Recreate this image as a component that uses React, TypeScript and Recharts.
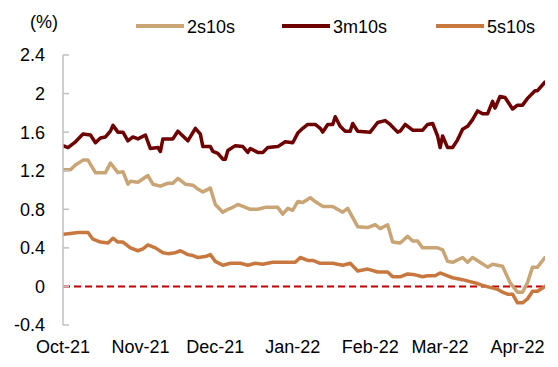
import { LineChart, Line, XAxis, YAxis, ReferenceLine, Legend } from 'recharts';

// x = days since 1 Oct 2021
const monthTicks = [0, 31, 61, 92, 123, 151, 182];
const monthLabels = ['Oct-21', 'Nov-21', 'Dec-21', 'Jan-22', 'Feb-22', 'Mar-22', 'Apr-22'];
const yTicks = [-0.4, 0, 0.4, 0.8, 1.2, 1.6, 2, 2.4];

const days3m10s = [
  0, 2, 5, 8, 11, 13, 15, 17, 19, 20, 22, 24, 26, 28, 30, 33, 35, 38, 39, 40, 44, 46, 48, 50, 53, 55, 56, 59, 60,
  62, 64, 65, 66, 69, 72, 74, 75, 78, 80, 82, 86, 89, 92, 94, 96, 98, 101, 103, 104, 106, 108, 109, 111, 113, 115,
  116, 118, 123, 126, 129, 131, 134, 135, 137, 140, 144, 146, 148, 150, 151, 152, 154, 156, 158, 160, 162, 164,
  166, 168, 170, 172, 173, 175, 177, 180, 182, 184, 186, 189, 190, 193,
];
const vals3m10s = [
  1.46, 1.44, 1.5, 1.58, 1.57, 1.49, 1.54, 1.55, 1.61, 1.67, 1.6, 1.6, 1.51, 1.55, 1.53, 1.57, 1.43, 1.44, 1.4, 1.53,
  1.53, 1.61, 1.56, 1.51, 1.64, 1.58, 1.45, 1.45, 1.4, 1.38, 1.32, 1.32, 1.41, 1.46, 1.45, 1.39, 1.43, 1.39, 1.39,
  1.44, 1.45, 1.5, 1.49, 1.59, 1.64, 1.68, 1.68, 1.64, 1.6, 1.68, 1.68, 1.76, 1.66, 1.61, 1.61, 1.69, 1.61, 1.6,
  1.7, 1.72, 1.68, 1.6, 1.61, 1.68, 1.62, 1.62, 1.68, 1.69, 1.56, 1.44, 1.56, 1.44, 1.44, 1.52, 1.63, 1.66, 1.73,
  1.82, 1.79, 1.79, 1.92, 1.85, 1.97, 1.96, 1.84, 1.88, 1.88, 1.95, 2.03, 2.03, 2.12,
];

const days2s10s = [
  0, 3, 5, 8, 10, 13, 15, 17, 19, 22, 24, 26, 27, 30, 34, 36, 39, 42, 44, 46, 49, 52, 54, 56, 59, 61, 64, 66, 68,
  70, 72, 75, 78, 81, 84, 86, 88, 90, 92, 94, 96, 99, 101, 104, 108, 112, 114, 118, 122, 125, 127, 130, 132, 135,
  138, 140, 142, 144, 150, 152, 154, 156, 160, 162, 164, 167, 170, 172, 174, 176, 179, 182, 184, 186, 188, 190, 193,
];
const vals2s10s = [
  1.21, 1.21, 1.26, 1.31, 1.31, 1.18, 1.18, 1.18, 1.28, 1.18, 1.19, 1.06, 1.09, 1.08, 1.15, 1.06, 1.04, 1.07, 1.07,
  1.12, 1.06, 1.05, 1.01, 0.98, 1.02, 0.85, 0.77, 0.8, 0.82, 0.85, 0.83, 0.8, 0.8, 0.82, 0.82, 0.82, 0.75, 0.81,
  0.79, 0.88, 0.87, 0.92, 0.88, 0.83, 0.83, 0.77, 0.81, 0.62, 0.61, 0.64, 0.6, 0.64, 0.46, 0.45, 0.52, 0.47, 0.47,
  0.4, 0.4, 0.38, 0.26, 0.25, 0.3, 0.25, 0.3, 0.25, 0.2, 0.23, 0.22, 0.21, 0.04, -0.06, -0.06, 0.04, 0.2, 0.2, 0.3,
];

const days5s10s = [
  0, 3, 6, 10, 12, 15, 18, 20, 22, 24, 27, 30, 32, 34, 37, 40, 42, 45, 47, 50, 52, 54, 57, 59, 61, 64, 67, 71, 74,
  77, 80, 84, 87, 91, 93, 95, 98, 100, 103, 108, 112, 115, 118, 122, 126, 130, 132, 135, 138, 141, 144, 146, 149,
  151, 154, 156, 160, 163, 166, 168, 171, 174, 176, 178, 180, 182, 184, 186, 188, 190, 193,
];
const vals5s10s = [
  0.54, 0.55, 0.56, 0.56, 0.49, 0.46, 0.45, 0.5, 0.46, 0.46, 0.4, 0.37, 0.39, 0.43, 0.4, 0.35, 0.34, 0.35, 0.37,
  0.33, 0.32, 0.3, 0.31, 0.33, 0.26, 0.22, 0.24, 0.24, 0.22, 0.24, 0.23, 0.25, 0.25, 0.25, 0.25, 0.3, 0.27, 0.27,
  0.24, 0.24, 0.22, 0.24, 0.16, 0.18, 0.15, 0.15, 0.1, 0.1, 0.13, 0.12, 0.1, 0.11, 0.11, 0.14, 0.11, 0.09, 0.07,
  0.05, 0.03, 0.01, -0.01, -0.03, -0.06, -0.08, -0.08, -0.17, -0.17, -0.13, -0.05, -0.05, 0,
];

const toRows = (days: number[], vals: number[]) => days.map((day, i) => ({ day, v: vals[i] }));

const series = [
  { name: '2s10s', color: '#C9A474', data: toRows(days2s10s, vals2s10s) },
  { name: '3m10s', color: '#6E0000', data: toRows(days3m10s, vals3m10s) },
  { name: '5s10s', color: '#C8783F', data: toRows(days5s10s, vals5s10s) },
];

const FONT = 'Arial, "Liberation Sans", sans-serif';
const fmtY = (v: number) => String(Number(v.toFixed(1)));
const fmtX = (v: number) => monthLabels[monthTicks.indexOf(v)] ?? '';

const YTick = (props: any) => {
  const { x, y, payload } = props;
  return (
    <g>
      <line x1={x + 18} x2={x + 24} y1={y} y2={y} stroke="#bfbfbf" strokeWidth={1.5} />
      <text x={x} y={y} dy="0.36em" textAnchor="end" fontSize={18} fill="#000" fontFamily={FONT}>
        {fmtY(payload.value)}
      </text>
    </g>
  );
};

const legendPos = [136, 282, 436];

const LegendBox = () => (
  <div style={{ position: 'relative', width: 558, height: 50, fontFamily: FONT, fontSize: 18, color: '#000' }}>
    <span style={{ position: 'absolute', left: 30, top: 13, lineHeight: '18px' }}>(%)</span>
    {series.map((s, i) => (
      <div key={s.name}>
        <span
          style={{ position: 'absolute', left: legendPos[i], top: 24, width: 48, height: 4, background: s.color }}
        />
        <span style={{ position: 'absolute', left: legendPos[i] + 51, top: 18, lineHeight: '18px' }}>{s.name}</span>
      </div>
    ))}
  </div>
);

export default function App() {
  return (
    <div style={{ position: 'absolute', left: 0, top: 0, width: 558, height: 367, background: '#fff' }}>
      <LineChart width={558} height={367} margin={{ top: 55, right: 13, bottom: 0, left: 0 }}>
        <Legend
          verticalAlign="middle"
          align="center"
          wrapperStyle={{ top: 0, left: 0, width: 558, height: 50 }}
          content={() => <LegendBox />}
        />
        <XAxis
          type="number"
          dataKey="day"
          domain={[0, 193]}
          ticks={monthTicks}
          interval={0}
          tickFormatter={fmtX}
          axisLine={false}
          tickLine={false}
          tickSize={0}
          tickMargin={15}
          height={42}
          tick={{ fontSize: 18, fill: '#000', fontFamily: FONT }}
          allowDataOverflow
        />
        <YAxis
          type="number"
          domain={[-0.4, 2.4]}
          ticks={yTicks}
          interval={0}
          width={63}
          axisLine={{ stroke: '#bfbfbf', strokeWidth: 1.5 }}
          tickLine={false}
          tickSize={0}
          tickMargin={18}
          tick={<YTick />}
          allowDataOverflow
        />
        <ReferenceLine y={0} stroke="#C00000" strokeWidth={2} strokeDasharray="7 4" />
        {series.map((s) => (
          <Line
            key={s.name}
            data={s.data}
            dataKey="v"
            name={s.name}
            type="linear"
            stroke={s.color}
            strokeWidth={3.5}
            strokeLinejoin="round"
            strokeLinecap="round"
            dot={false}
            activeDot={false}
            isAnimationActive={false}
          />
        ))}
      </LineChart>
    </div>
  );
}
